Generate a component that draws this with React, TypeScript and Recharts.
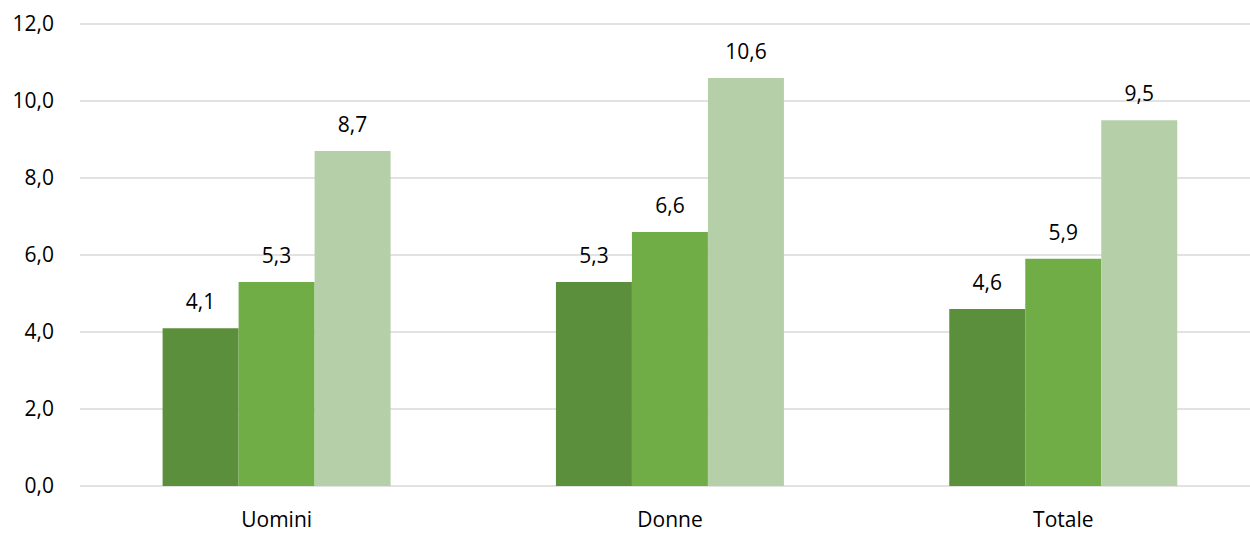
import React from "react";
import {
  BarChart,
  Bar,
  XAxis,
  YAxis,
  CartesianGrid,
  LabelList,
} from "recharts";

// Categories and the three series shown per group
const categories = ["Uomini", "Donne", "Totale"];
const serieA = [4.1, 5.3, 4.6];
const serieB = [5.3, 6.6, 5.9];
const serieC = [8.7, 10.6, 9.5];
const yTicks = [0, 2, 4, 6, 8, 10, 12];

const COLORS = ["#5B8F3B", "#70AD47", "#B5CFA8"];
const FONT = "'Open Sans', 'Liberation Sans', sans-serif";

const chartData = categories.map((name, i) => ({
  name,
  a: serieA[i],
  b: serieB[i],
  c: serieC[i],
}));

// Italian decimal format: one decimal, comma separator
const fmt = (v: number) => v.toFixed(1).replace(".", ",");

const App: React.FC = () => {
  return (
    <div
      style={{
        position: "absolute",
        left: 0,
        top: 0,
        width: 1250,
        height: 533,
        overflow: "hidden",
        background: "#fff",
      }}
    >
      <BarChart
        width={1260}
        height={533}
        data={chartData}
        margin={{ top: 24, right: 0, bottom: 0, left: 0 }}
        barCategoryGap="21%"
        barGap={0}
        style={{ fontFamily: FONT }}
      >
        <CartesianGrid
          vertical={false}
          stroke="#D9D9D9"
          strokeWidth={1.5}
        />
        <XAxis
          dataKey="name"
          axisLine={false}
          tickLine={false}
          tickSize={0}
          tickMargin={26}
          height={47}
          tick={{ fill: "#000", fontSize: 21, fontFamily: FONT }}
        />
        <YAxis
          domain={[0, 12]}
          ticks={yTicks}
          width={80}
          axisLine={false}
          tickLine={false}
          tickSize={0}
          tickMargin={26}
          tickFormatter={fmt}
          tick={{ fill: "#000", fontSize: 21, fontFamily: FONT }}
        />
        {(["a", "b", "c"] as const).map((key, i) => (
          <Bar
            key={key}
            dataKey={key}
            fill={COLORS[i]}
            isAnimationActive={false}
          >
            <LabelList
              dataKey={key}
              position="top"
              offset={19}
              formatter={(v: number) => fmt(v)}
              style={{ fill: "#000", fontSize: 21, fontFamily: FONT }}
            />
          </Bar>
        ))}
      </BarChart>
    </div>
  );
};

export default App;
